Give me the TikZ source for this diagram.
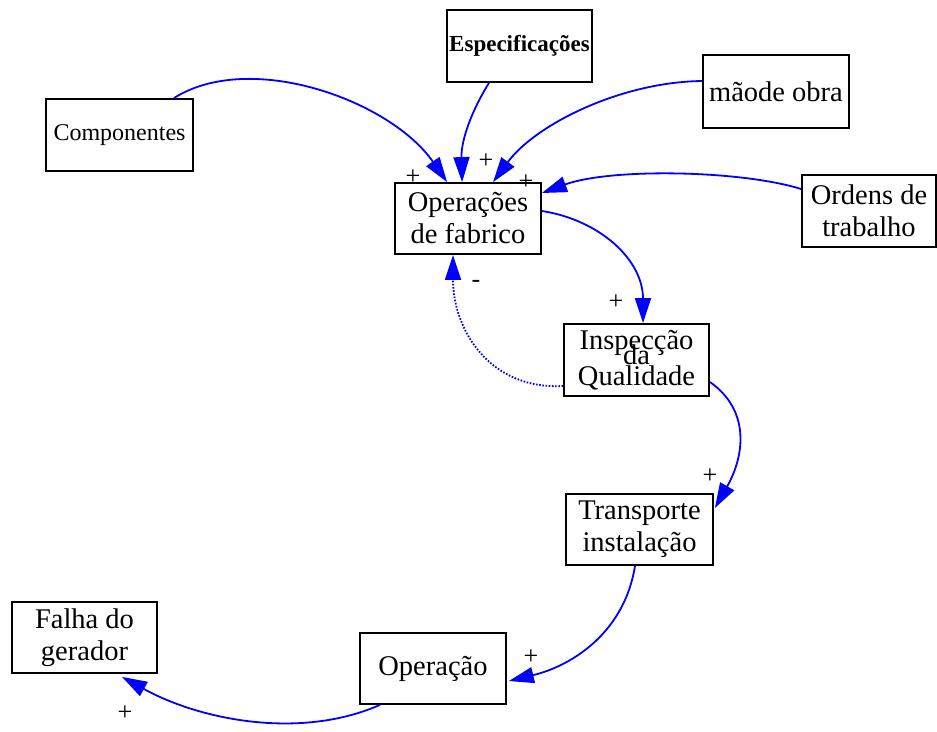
\documentclass[tikz,border=0pt]{standalone}
\usepackage{fontspec}
\setmainfont{Liberation Serif}
\usetikzlibrary{arrows.meta}
\begin{document}
\begin{tikzpicture}[x=1pt,y=-1pt,
 box/.style={draw=black,line width=1.8pt,inner sep=0pt,minimum width=146pt,minimum height=72pt,align=center,font=\fontsize{28.5}{32}\selectfont},
 link/.style={draw=blue,line width=1.8pt,-{Triangle[length=25pt,width=16pt]}},
 dotlink/.style={link,dash pattern=on 1.6pt off 1.6pt},
 lbl/.style={inner sep=0pt,font=\fontsize{26}{30}\selectfont}]
\useasboundingbox (0,0) rectangle (937,731);
\node[box,minimum width=147pt,font=\fontsize{24}{28}\selectfont] (comp) at (119.5,135) {Componentes};
\node[box,minimum width=145pt,font=\fontsize{23}{27}\selectfont\bfseries] (esp) at (519.5,46) {Especificações};
\node[box,minimum height=73pt] (mao) at (776,91.5) {mãode obra};
\node[box,minimum height=71pt] (op) at (468,218.5) {Operações\\de fabrico};
\node[box,minimum width=134pt] (ord) at (869,211) {Ordens de\\trabalho};
\node[box,minimum width=145pt] (insp) at (636.5,360) {Inspecção\\[-17pt]da\\[-11.5pt]Qualidade};
\node[box,minimum width=147pt,minimum height=71pt] (trans) at (639.5,529.5) {Transporte\\instalação};
\node[box,minimum width=145pt,minimum height=71pt] (falha) at (84.5,637.5) {Falha do\\gerador};
\node[box,minimum height=71pt] (opc) at (433,668.5) {Operação};

\draw[link] ([xshift=-20pt]comp.north east) .. controls (250,50) and (390,100) .. ([xshift=53pt]op.north west);
\draw[link] ([xshift=-30.5pt]esp.south) .. controls (472,110) and (461,140) .. ([xshift=68pt]op.north west);
\draw[link] ([yshift=10.5pt]mao.west) .. controls (620,82) and (535,125) .. ([xshift=99pt]op.north west);
\draw[link] ([yshift=22pt]ord.west) .. controls (740,170) and (610,168) .. ([yshift=25.5pt]op.east);
\draw[link] ([yshift=7.5pt]op.east) .. controls (600,220) and (643,260) .. ([xshift=6.5pt]insp.north);
\draw[dotlink] ([yshift=-26pt]insp.west) .. controls (490,390) and (453,330) .. ([xshift=-15pt]op.south);
\draw[link] ([yshift=-22pt]insp.east) .. controls (750,410) and (745,455) .. ([yshift=21.5pt,xshift=1pt]trans.east);
\draw[link] ([xshift=-4.5pt]trans.south) .. controls (625,630) and (575,665) .. ([yshift=-12.5pt,xshift=2pt]opc.east);
\draw[link] ([xshift=-53pt]opc.south) .. controls (300,740) and (200,720) .. ([xshift=37.5pt,yshift=-3pt]falha.south);

\node[lbl] (p1) at (413,177) {+};
\node[lbl] (p2) at (486,161) {+};
\node[lbl] (p3) at (526,182) {+};
\node[lbl] (p4) at (616,302) {+};
\node[lbl] (p5) at (710,476) {+};
\node[lbl] (p6) at (531,657) {+};
\node[lbl] (p7) at (125,713) {+};
\node[lbl] (m1) at (476,284) {-};
\end{tikzpicture}
\end{document}
